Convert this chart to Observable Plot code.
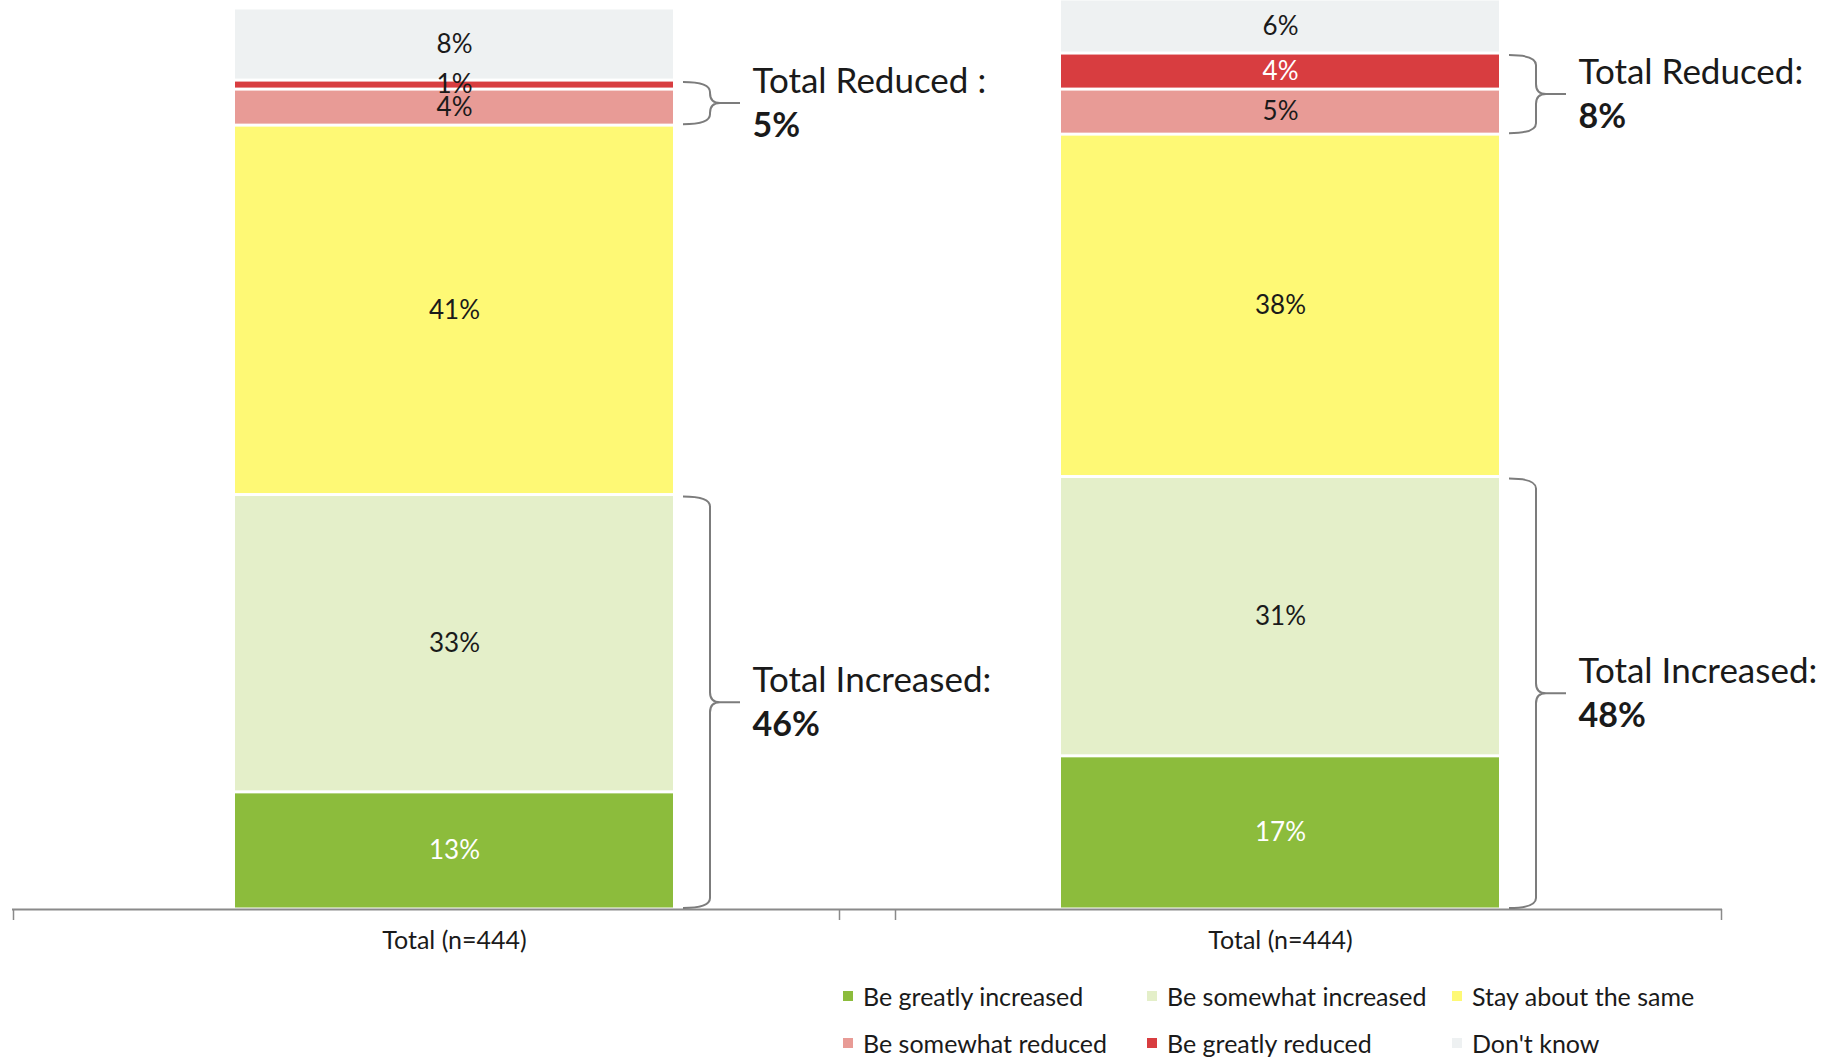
<!DOCTYPE html>
<html>
<head>
<meta charset="utf-8">
<script src="https://cdn.jsdelivr.net/npm/d3@7"></script>
<script src="https://cdn.jsdelivr.net/npm/@observablehq/plot@0.6"></script>
<style>
  html, body { margin: 0; padding: 0; background: #ffffff; }
  #wrap { position: relative; width: 1840px; height: 1058px; font-family: Lato, "Open Sans", sans-serif; color: #1a1a1a; }
  #legend { position: absolute; left: 843px; top: 972px; display: grid; grid-template-columns: 304px 305px 300px; grid-auto-rows: 47px; }
  .item { display: flex; align-items: center; font-size: 25px; white-space: nowrap; }
  .sw { width: 10px; height: 10px; margin-right: 10px; flex: none; }
</style>
</head>
<body>
<div id="wrap">
  <div id="chart"></div>
  <div id="legend"></div>
</div>
<script>
// ---------- data ----------
const charts = ["chart1", "chart2"];
const chartLabels = ["Total (n=444)", "Total (n=444)"];
const responses = ["Be greatly increased", "Be somewhat increased", "Stay about the same", "Be somewhat reduced", "Be greatly reduced", "Don't know"];
const chart1Values = [13, 33, 41, 4, 1, 8];
const chart2Values = [17, 31, 38, 5, 4, 6];
const responseColors = ["#8cbc3c", "#e4efc9", "#fef975", "#e89b96", "#d83d40", "#eef1f2"];
const reducedTitles = ["Total Reduced :", "Total Reduced:"];
const increasedTitles = ["Total Increased:", "Total Increased:"];
const totalReduced = [5, 8];
const totalIncreased = [46, 48];
// legend order as shown (two rows of three)
const legendOrder = ["Be greatly increased", "Be somewhat increased", "Stay about the same", "Be somewhat reduced", "Be greatly reduced", "Don't know"];

// ---------- table ----------
const seriesValues = [chart1Values, chart2Values];
const rows = charts.flatMap((c, i) => responses.map((r, k) => ({chart: c, response: r, value: seriesValues[i][k]})));

const isWhiteLabel = d => d.response === "Be greatly increased" || (d.response === "Be greatly reduced" && d.value >= 2);

// brace ranges (cumulative percentages of each bar)
const braces = charts.flatMap((c, i) => {
  const v = seriesValues[i];
  const cum = k => d3.sum(v.slice(0, k));
  return [
    {chart: c, lo: cum(0), hi: cum(2), title: increasedTitles[i], total: totalIncreased[i] + "%"},
    {chart: c, lo: cum(3), hi: cum(5), title: reducedTitles[i], total: totalReduced[i] + "%"}
  ];
});

const W = 1840, H = 965, mT = 8, mB = 56, mL = 12, mR = 118;
const innerH = H - mT - mB;
const labelDx = 298;
const dark = "#1a1a1a";

function bracePath(x0, xv, xt, yT, yB) {
  const r = Math.min(10, (yB - yT) / 4);
  const ym = (yT + yB) / 2;
  return `M${x0},${yT} Q${xv},${yT} ${xv},${yT + r} L${xv},${ym - r} Q${xv},${ym} ${xv + r},${ym} L${xt},${ym}` +
         ` M${xv + r},${ym} Q${xv},${ym} ${xv},${ym + r} L${xv},${yB - r} Q${xv},${yB} ${x0},${yB}`;
}

const braceMark = (index, scales) => {
  const g = d3.create("svg:g").attr("fill", "none").attr("stroke", "#7c7c7c").attr("stroke-width", 2);
  for (const b of braces) {
    const xr = scales.x(b.chart) + scales.x.bandwidth();
    const yT = scales.y(b.hi) + 2, yB = scales.y(b.lo) - 1;
    g.append("path").attr("d", bracePath(xr + 10, xr + 37, xr + 67, yT, yB));
  }
  return g.node();
};

const stackOpts = extra => Plot.stackY({x: "chart", y: "value", z: "response", ...extra});

const plot = Plot.plot({
  width: W, height: H,
  marginTop: mT, marginBottom: mB, marginLeft: mL, marginRight: mR,
  style: {fontFamily: "Lato, 'Open Sans', sans-serif", fontSize: "25px", color: dark, background: "transparent", overflow: "visible"},
  x: {domain: charts, paddingInner: 0.47, paddingOuter: 0.269, tickSize: 0, tickPadding: 22,
      tickFormat: d => chartLabels[charts.indexOf(d)], label: null},
  y: {domain: [0, 100], axis: null},
  color: {domain: responses, range: responseColors},
  marks: [
    Plot.barY(rows, stackOpts({fill: "response", insetTop: 1.5, insetBottom: 1.5})),
    Plot.text(rows, stackOpts({text: d => isWhiteLabel(d) ? d.value + "%" : "", fill: "white", fontSize: 26})),
    Plot.text(rows, stackOpts({text: d => isWhiteLabel(d) ? "" : d.value + "%", fill: dark, fontSize: 26})),
    Plot.ruleY([0], {stroke: "#8a8a8a", strokeWidth: 2}),
    Plot.ruleX(charts, {x: d => d, dx: -441, stroke: "#8a8a8a", strokeWidth: 1.5, insetTop: innerH, insetBottom: -11}),
    Plot.ruleX(charts, {x: d => d, dx: 441, stroke: "#8a8a8a", strokeWidth: 1.5, insetTop: innerH, insetBottom: -11}),
    braceMark,
    Plot.text(braces, {x: "chart", y: d => (d.lo + d.hi) / 2, text: "title", dx: labelDx, dy: -21, textAnchor: "start", fontSize: 35, fill: dark}),
    Plot.text(braces, {x: "chart", y: d => (d.lo + d.hi) / 2, text: "total", dx: labelDx, dy: 23, textAnchor: "start", fontSize: 34, fontWeight: "bold", fill: dark})
  ]
});
document.getElementById("chart").appendChild(plot);

// ---------- legend ----------
const legend = d3.select("#legend");
for (const r of legendOrder) {
  const item = legend.append("div").attr("class", "item");
  item.append("span").attr("class", "sw").style("background", responseColors[responses.indexOf(r)]);
  item.append("span").text(r);
}
</script>
</body>
</html>
